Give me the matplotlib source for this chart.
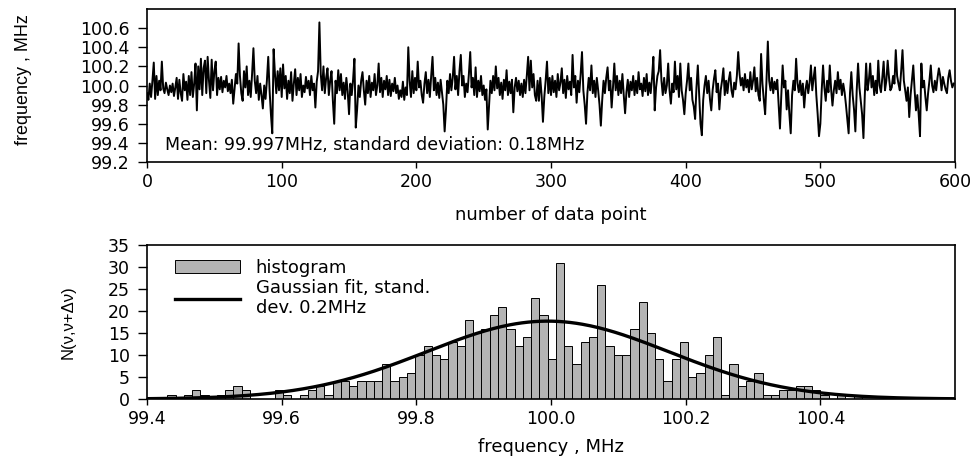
import numpy as np
import matplotlib
matplotlib.use("Agg")
import matplotlib.pyplot as plt
from matplotlib.ticker import FormatStrFormatter

plt.rcParams['font.family'] = ['DejaVu Sans']
label_font = ['Liberation Sans', 'DejaVu Sans']

freq_series = [
    99.92, 99.85, 100.02, 99.88, 100.05, 100.24, 99.86, 100.10, 99.90, 100.05,
    99.95, 100.25, 99.97, 99.92, 100.03, 99.96, 99.90, 100.00, 99.93, 100.02,
    99.89, 99.98, 100.08, 99.86, 100.06, 99.92, 99.84, 100.12, 99.95, 100.04,
    99.85, 100.10, 99.90, 100.14, 99.88, 100.02, 100.23, 99.74, 100.20, 99.96,
    100.28, 99.90, 100.18, 100.26, 99.92, 100.30, 100.05, 99.87, 100.27, 99.95,
    100.15, 100.25, 99.90, 100.08, 99.96, 100.09, 99.93, 100.05, 99.98, 100.10,
    99.94, 100.02, 99.92, 100.06, 99.81, 99.97, 100.12, 100.02, 100.44, 100.10,
    99.92, 99.84, 100.15, 99.98, 100.20, 99.90, 100.05, 99.88, 100.12, 100.39,
    100.05, 99.92, 100.10, 99.85, 100.02, 99.90, 99.76, 100.00, 99.86, 100.05,
    100.30, 99.95, 99.70, 99.50, 100.38, 100.12, 99.92, 100.15, 99.95, 100.18,
    99.88, 100.22, 99.97, 100.10, 99.86, 100.05, 99.92, 100.14, 99.84, 100.02,
    100.17, 99.90, 100.08, 99.95, 100.12, 99.88, 100.00, 99.93, 100.09, 99.97,
    100.05, 99.90, 100.10, 99.95, 100.02, 99.77, 100.04, 100.15, 100.66, 100.12,
    99.95, 100.20, 99.92, 100.08, 100.18, 99.90, 100.05, 100.15, 99.84, 99.60,
    100.05, 99.92, 100.16, 99.95, 100.12, 99.90, 100.03, 99.86, 100.08, 99.94,
    99.70, 100.02, 99.90, 100.06, 100.28, 99.56, 99.75, 100.00, 99.88, 100.05,
    100.14, 99.95, 99.80, 100.05, 99.92, 100.10, 99.88, 100.03, 99.95, 100.12,
    99.90, 100.00, 100.23, 99.93, 100.08, 99.88, 100.05, 99.96, 100.10, 99.90,
    100.06, 99.89, 100.02, 99.94, 100.08, 99.92, 100.00, 99.86, 99.95, 99.88,
    100.04, 99.85, 99.98, 99.90, 100.40, 100.05, 99.88, 100.15, 99.92, 100.08,
    99.95, 100.25, 99.98, 100.05, 99.90, 99.82, 100.02, 100.14, 99.92, 100.06,
    99.88, 100.10, 100.30, 99.95, 100.08, 99.90, 100.03, 99.87, 100.06, 99.93,
    99.80, 99.52, 99.75, 100.05, 99.92, 100.12, 99.95, 100.08, 100.30, 99.96,
    100.10, 99.90, 100.15, 100.32, 100.00, 100.10, 99.88, 100.02, 99.93, 100.12,
    100.35, 99.98, 100.08, 99.90, 100.19, 99.88, 100.05, 99.94, 100.10, 99.90,
    100.00, 99.85, 99.96, 99.54, 99.80, 100.05, 99.92, 100.10, 99.95, 100.20,
    99.97, 100.08, 99.90, 100.03, 99.86, 100.06, 99.95, 100.16, 99.90, 100.04,
    99.92, 100.06, 99.72, 99.98, 100.08, 99.94, 100.05, 99.90, 100.02, 99.88,
    100.06, 99.92, 100.10, 100.30, 99.95, 100.26, 99.98, 100.12, 99.90, 99.84,
    100.05, 99.84, 100.08, 99.90, 99.62, 99.88, 100.05, 100.25, 99.92, 100.08,
    99.90, 100.10, 99.93, 100.05, 99.88, 100.12, 99.95, 100.03, 100.18, 99.92,
    100.06, 99.87, 100.10, 99.96, 100.04, 99.90, 100.32, 99.98, 100.10, 99.82,
    100.05, 99.93, 100.12, 100.35, 99.95, 99.80, 99.60, 99.92, 100.08, 99.95,
    100.21, 99.92, 100.05, 99.88, 100.08, 99.95, 99.80, 99.58, 99.85, 100.05,
    99.92, 100.08, 100.19, 99.95, 100.05, 99.77, 99.98, 100.23, 99.95, 100.10,
    99.90, 100.05, 99.92, 100.12, 99.90, 99.71, 99.93, 100.06, 99.88, 100.04,
    99.95, 100.10, 99.90, 100.05, 99.92, 100.14, 99.96, 100.02, 99.89, 100.08,
    99.94, 100.12, 99.90, 100.03, 99.92, 100.08, 100.30, 99.74, 99.98, 100.10,
    100.15, 100.37, 100.05, 99.90, 100.08, 99.92, 100.00, 100.23, 99.95, 99.81,
    100.02, 99.93, 100.25, 99.96, 100.10, 99.88, 100.23, 99.95, 99.85, 99.70,
    99.92, 100.05, 100.23, 99.95, 100.08, 99.85, 99.78, 99.65, 99.98, 100.21,
    99.90, 99.60, 99.48, 99.85, 100.00, 100.10, 99.92, 100.05, 99.86, 99.74,
    99.95, 100.07, 100.16, 99.93, 100.02, 99.75, 99.95, 100.05, 100.18, 99.90,
    100.05, 99.92, 100.06, 100.14, 99.95, 99.88, 100.03, 99.96, 100.10, 100.35,
    100.12, 100.00, 100.08, 99.95, 100.12, 99.98, 100.06, 99.93, 100.14, 99.96,
    100.05, 100.19, 99.94, 100.08, 99.90, 99.84, 100.33, 100.02, 99.85, 99.70,
    100.05, 100.46, 100.05, 99.95, 100.08, 99.92, 100.04, 99.96, 100.06, 99.80,
    99.55, 99.90, 100.21, 99.98, 100.05, 99.75, 99.95, 99.70, 99.50, 99.90,
    100.05, 99.95, 100.28, 100.02, 99.93, 100.05, 99.90, 100.02, 99.77, 99.96,
    100.05, 99.92, 100.03, 100.21, 99.95, 100.08, 100.19, 99.90, 99.70, 99.47,
    99.60, 99.95, 100.21, 99.98, 99.84, 100.05, 99.93, 100.21, 99.96, 99.79,
    99.95, 100.05, 99.92, 100.14, 99.96, 100.06, 99.90, 100.02, 99.93, 99.80,
    99.65, 99.50, 99.92, 100.14, 99.90, 99.75, 99.52, 99.95, 100.23, 99.98,
    99.84, 99.70, 99.45, 99.90, 100.23, 99.95, 100.05, 100.23, 99.98, 100.10,
    99.90, 100.05, 99.92, 100.26, 100.00, 99.93, 100.08, 100.25, 99.95, 100.05,
    100.26, 100.08, 99.95, 99.98, 100.10, 100.02, 100.37, 100.10, 100.02, 99.95,
    100.15, 100.37, 100.05, 99.95, 99.84, 99.98, 99.67, 99.90, 100.05, 100.21,
    99.95, 99.74, 99.90, 99.70, 99.47, 100.23, 99.98, 100.05, 99.88, 99.74,
    99.92, 100.05, 100.21, 100.00, 99.93, 100.05, 99.95, 100.08, 100.18, 100.10,
    99.95, 100.09, 100.02, 99.96, 99.92, 100.08, 100.16, 100.05, 99.98, 100.02,
]

# histogram: counts per frequency bin, first bin starting at 99.430 MHz
hist_first_edge = 99.430
hist_bin_width = 0.01228
hist_counts = [
    1, 0, 1, 2, 1, 0, 1, 2, 3, 2,
    0, 0, 0, 2, 1, 0, 1, 2, 3, 1,
    4, 4, 3, 4, 4, 4, 8, 4, 5, 6,
    10, 12, 10, 9, 13, 12, 18, 15, 16, 19,
    21, 16, 12, 14, 23, 19, 9, 31, 12, 8,
    13, 14, 26, 12, 10, 10, 16, 22, 15, 9,
    4, 9, 13, 5, 6, 10, 14, 1, 8, 3,
    4, 6, 1, 1, 2, 2, 3, 3, 2, 1,
    0, 1, 0, 1,
]

# Gaussian fit parameters
fit_center = 99.995
fit_sigma = 0.18
fit_peak = 17.7

fig = plt.figure(figsize=(9.77, 4.65), dpi=100)
ax1 = fig.add_axes([0.1505, 0.6516, 0.827, 0.329])
ax2 = fig.add_axes([0.1505, 0.1419, 0.827, 0.3312])

# top panel: time series
ax1.plot(np.arange(len(freq_series)), freq_series, color='black', lw=1.4)
ax1.set_xlim(0, 600)
ax1.set_ylim(99.2, 100.8)
ax1.set_xticks([0, 100, 200, 300, 400, 500, 600])
ax1.set_yticks([99.2, 99.4, 99.6, 99.8, 100.0, 100.2, 100.4, 100.6])
ax1.yaxis.set_major_formatter(FormatStrFormatter('%.1f'))
ax1.set_xlabel('number of data point', fontsize=13)
ax1.xaxis.set_label_coords(0.5, -0.29)
ax1.set_ylabel('frequency , MHz', fontsize=13, family=label_font)
ax1.yaxis.set_label_coords(-0.142, 0.54)
ax1.text(0.022, 0.11, 'Mean: 99.997MHz, standard deviation: 0.18MHz',
         transform=ax1.transAxes, fontsize=12.5, va='center')

# bottom panel: histogram with gaussian fit
centers = hist_first_edge + hist_bin_width * (np.arange(len(hist_counts)) + 0.5)
bars = ax2.bar(centers, hist_counts, width=hist_bin_width, color='#b4b4b4',
               edgecolor='black', linewidth=0.7)
xf = np.linspace(99.4, 100.6, 400)
fit_line, = ax2.plot(xf, fit_peak * np.exp(-0.5 * ((xf - fit_center) / fit_sigma) ** 2),
                     color='black', lw=2.4)
ax2.set_xlim(99.4, 100.6)
ax2.set_ylim(0, 35)
ax2.set_xticks([99.4, 99.6, 99.8, 100.0, 100.2, 100.4])
ax2.set_xticklabels(['99.4', '99.6', '99.8', '100.0', '100.2', '100.4'])
ax2.set_yticks(range(0, 36, 5))
ax2.set_xlabel('frequency , MHz', fontsize=13)
ax2.xaxis.set_label_coords(0.5, -0.25)
ax2.set_ylabel('N(\u03bd,\u03bd+\u0394\u03bd)', fontsize=12, family=label_font)
ax2.yaxis.set_label_coords(-0.089, 0.5)
ax2.legend([bars, fit_line], ['histogram', 'Gaussian fit, stand.\ndev. 0.2MHz'],
           loc='upper left', frameon=False, fontsize=13, handlelength=3.6,
           handleheight=0.75, handletextpad=0.9, labelspacing=0.1,
           borderpad=0, borderaxespad=0, bbox_to_anchor=(0.034, 0.91))

for ax in (ax1, ax2):
    ax.tick_params(axis='y', direction='out', length=6.5, width=1, labelsize=12.5, pad=6)
    ax.tick_params(axis='x', direction='out', length=4, width=1, labelsize=12.5, pad=4)
    for s in ax.spines.values():
        s.set_linewidth(1.2)

fig.savefig('out.png', dpi=100)
